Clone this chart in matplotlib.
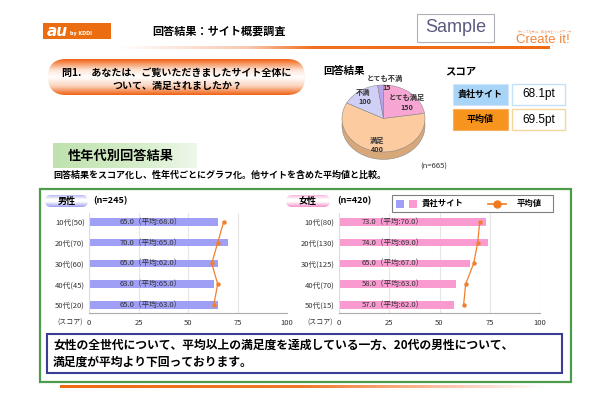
import numpy as np
import matplotlib
matplotlib.use('Agg')
import matplotlib.pyplot as plt
from matplotlib.patches import FancyBboxPatch, Rectangle
from matplotlib.colors import LinearSegmentedColormap

plt.rcParams['font.family'] = ['Noto Sans CJK JP', 'DejaVu Sans']

# ---------------- data ----------------
male_groups = ['10代(50)', '20代(70)', '30代(60)', '40代(45)', '50代(20)']
male_scores = [65.0, 70.0, 65.0, 63.0, 65.0]
male_avg = [68.0, 65.0, 62.0, 65.0, 63.0]
female_groups = ['10代(80)', '20代(130)', '30代(125)', '40代(70)', '50代(15)']
female_scores = [73.0, 74.0, 65.0, 58.0, 57.0]
female_avg = [70.0, 69.0, 67.0, 63.0, 62.0]
score_ticks = [0, 25, 50, 75, 100]
pie_labels = ['とても満足', '満足', '不満', 'とても不満']
pie_counts = [150, 400, 100, 15]
site_score = 68.1
avg_score = 69.5
n_male, n_female, n_total = 245, 420, 665

W, H = 610, 400
fig = plt.figure(figsize=(6.1, 4.0), dpi=100)
bg = fig.add_axes([0, 0, 1, 1])
bg.axis('off')


def px_axes(x0, y0, x1, y1):
    return fig.add_axes([x0 / W, 1 - y1 / H, (x1 - x0) / W, (y1 - y0) / H])


def grad(ax, x0, y0, x1, y1, colors, positions, horizontal=False, clip=None, z=1):
    cmap = LinearSegmentedColormap.from_list('g', list(zip(positions, colors)))
    arr = np.linspace(0, 1, 256)
    arr = arr[None, :] if horizontal else arr[:, None]
    im = ax.imshow(arr, cmap=cmap, extent=(x0, x1, y1, y0), aspect='auto',
                   origin='upper', zorder=z, interpolation='bilinear')
    if clip is not None:
        ax.add_patch(clip)
        im.set_clip_path(clip)
    return im


# ---------------- header ----------------
bg.add_patch(Rectangle((43, 23), 68, 16, fc='#eb6d0f', ec='none', zorder=2))
bg.text(47, 31, 'au', color='white', fontsize=11, weight='bold', style='italic',
        family='DejaVu Sans', va='center', ha='left', zorder=3)
bg.text(70, 33, 'by KDDI', color='white', fontsize=3.5, weight='bold',
        family='DejaVu Sans', va='center', ha='left', zorder=3)
bg.text(152, 31.5, '回答結果：サイト概要調査', fontsize=8, weight='bold', va='center', ha='left')

bg.add_patch(Rectangle((417, 14), 77, 28, fc='white', ec='#b0b0b8', lw=0.8, zorder=2))
bg.text(455.5, 28, 'Sample', fontsize=13, color='#5a5a80', family='Liberation Sans',
        ha='center', va='center', zorder=3)
bg.text(545, 31, 'チャンスを形に、創る力をバックアップ', fontsize=2.2, color='#f0a070',
        ha='center', va='center')
bg.text(516, 40, 'Create it!', fontsize=9.5, color='#f0863a', family='Liberation Sans',
        ha='left', va='center')

grad(bg, 118, 46.5, 550, 49.5, ['#ffffff', '#f8c8b0', '#f07020', '#f06a10'],
     [0, 0.3, 0.45, 1], horizontal=True)

# question pill
pill = FancyBboxPatch((48, 59), 257, 36, boxstyle='round,pad=0,rounding_size=18',
                      fc='none', ec='none')
grad(bg, 48, 59, 305, 95, ['#f06010', '#fde3d3', '#ffffff', '#fbd3bd', '#f06010'],
     [0, 0.3, 0.5, 0.75, 1], clip=pill)
bg.text(177, 72.5, '問1.　あなたは、ご覧いただきましたサイト全体に', fontsize=7.2,
        weight='bold', ha='center', va='center', zorder=3)
bg.text(177, 85.5, 'ついて、満足されましたか？', fontsize=7.2,
        weight='bold', ha='center', va='center', zorder=3)

# pie titles & score boxes
bg.text(323, 71, '回答結果', fontsize=7.5, weight='bold', ha='left', va='center')
bg.text(445, 71, 'スコア', fontsize=7.5, weight='bold', ha='left', va='center')
bg.text(420, 167, f'(n={n_total})', fontsize=5.5, ha='left', va='center', color='#333')

bg.add_patch(Rectangle((453, 84), 55, 21, fc='#a8d4f7', ec='#cfe6fa', lw=0.8, zorder=2))
bg.text(480.5, 94.5, '貴社サイト', fontsize=6.5, weight='bold', ha='center', va='center', zorder=3)
bg.add_patch(Rectangle((512, 84), 53, 21, fc='white', ec='#c6e0f5', lw=1, zorder=2))
bg.text(538.5, 94.5, f'{site_score:.1f}pt', fontsize=8.5, family='Liberation Sans',
        ha='center', va='center', zorder=3)
bg.add_patch(Rectangle((453, 109), 55, 21, fc='#f7941d', ec='#f7b060', lw=0.8, zorder=2))
bg.text(480.5, 119.5, '平均値', fontsize=6.5, weight='bold', ha='center', va='center', zorder=3)
bg.add_patch(Rectangle((512, 109), 53, 21, fc='white', ec='#f5d59a', lw=1, zorder=2))
bg.text(538.5, 119.5, f'{avg_score:.1f}pt', fontsize=8.5, family='Liberation Sans',
        ha='center', va='center', zorder=3)

# section title
grad(bg, 53, 143, 197, 168, ['#bfe2ae', '#d6edca', '#eef8ea'], [0, 0.6, 1], horizontal=True)
bg.text(68, 156, '性年代別回答結果', fontsize=9.5, weight='bold', ha='left', va='center', zorder=3)
bg.text(53, 175.5, '回答結果をスコア化し、性年代ごとにグラフ化。他サイトを含めた平均値と比較。',
        fontsize=6.5, weight='bold', ha='left', va='center')

# green frame
bg.add_patch(Rectangle((40, 189), 531, 193, fc='white', ec='#4c9c4c', lw=1.6, zorder=2))

# gender pills
mp = FancyBboxPatch((45, 195), 43, 12, boxstyle='round,pad=0,rounding_size=6', fc='none', ec='none')
grad(bg, 45, 195, 88, 207, ['#b8b8f4', '#ffffff', '#ffffff', '#9c9cf0'], [0, 0.35, 0.55, 1],
     clip=mp, z=3)
bg.text(66.5, 201, '男性', fontsize=6.5, weight='bold', ha='center', va='center', zorder=4)
bg.text(93, 200.5, f'(n={n_male})', fontsize=6.5, weight='bold', ha='left', va='center', zorder=4)

fp = FancyBboxPatch((286, 195), 44, 12, boxstyle='round,pad=0,rounding_size=6', fc='none', ec='none')
grad(bg, 286, 195, 330, 207, ['#f8b8dc', '#ffffff', '#ffffff', '#f590c8'], [0, 0.35, 0.55, 1],
     clip=fp, z=3)
bg.text(308, 201, '女性', fontsize=6.5, weight='bold', ha='center', va='center', zorder=4)
bg.text(337, 200.5, f'(n={n_female})', fontsize=6.5, weight='bold', ha='left', va='center', zorder=4)

bg.text(57, 323, '(スコア)', fontsize=5, ha='left', va='center', color='#333', zorder=4)
bg.text(307, 323, '(スコア)', fontsize=5, ha='left', va='center', color='#333', zorder=4)

# conclusion box
bg.add_patch(Rectangle((47, 334), 515, 39, fc='white', ec='#3c3c96', lw=1.5, zorder=3))
bg.text(53, 345.5, '女性の全世代について、平均以上の満足度を達成している一方、20代の男性について、',
        fontsize=8.5, weight='bold', ha='left', va='center', zorder=4)
bg.text(53, 362, '満足度が平均より下回っております。',
        fontsize=8.5, weight='bold', ha='left', va='center', zorder=4)

# bottom line
grad(bg, 60, 386, 545, 388.5, ['#f06a10', '#f07828', '#fbd0c0', '#ffffff'],
     [0, 0.5, 0.85, 1], horizontal=True)

bg.set_xlim(0, W)
bg.set_ylim(H, 0)

# ---------------- pie ----------------
pax = px_axes(342, 85, 425, 152)
top_cols = ['#f7a6d3', '#fccb9f', '#d0d0f6', '#b9a2ee']
dark_cols = ['#d684b4', '#d9a878', '#a9a9d6', '#9484cc']
pax.pie(pie_counts, colors=dark_cols, startangle=90, counterclock=False, center=(0, -0.22),
        radius=1, wedgeprops=dict(edgecolor='#8a8a8a', linewidth=0.4))
pax.pie(pie_counts, colors=top_cols, startangle=90, counterclock=False, center=(0, 0),
        radius=1, wedgeprops=dict(edgecolor='#8a8a8a', linewidth=0.4))
pax.set_aspect('auto')
pax.set_xlim(-1, 1)
pax.set_ylim(-1, 1)
pax.axis('off')


# ---------------- bar charts ----------------
def bar_chart(rect, cats, scores, avgs, color, label_x):
    ax = px_axes(*rect)
    y = np.arange(len(cats))
    ax.barh(y, scores, height=0.36, color=color, zorder=2)
    ax.plot(avgs, y, color='#f08030', lw=0.9, marker='o', ms=2.2, zorder=3)
    for yi, s, a in zip(y, scores, avgs):
        ax.text(label_x, yi, f'{s:.1f}（平均:{a:.1f}）', fontsize=5.5, va='center',
                ha='left', color='#333', zorder=4)
    ax.set_xlim(0, 100)
    ax.set_ylim(len(cats) - 1 + 0.39, -0.43)
    ax.set_xticks(score_ticks)
    ax.set_xticklabels([str(t) for t in score_ticks], fontsize=5.5, color='#333')
    ax.set_yticks(y)
    ax.set_yticklabels(cats, fontsize=5.5, color='#333')
    ax.tick_params(axis='x', length=0, pad=4)
    ax.tick_params(axis='y', length=0, pad=3)
    ax.grid(axis='x', color='#e6e6e6', lw=0.8)
    ax.set_axisbelow(True)
    ax.spines['top'].set_visible(False)
    ax.spines['right'].set_visible(False)
    ax.spines['left'].set_color('#dddddd')
    ax.spines['bottom'].set_color('#aaaaaa')
    ax.patch.set_alpha(0)
    return ax


bar_chart((89, 213, 287, 313), male_groups, male_scores, male_avg, '#9f9ff5', 15.5)
bar_chart((339, 213, 540, 313), female_groups, female_scores, female_avg, '#f99bd1', 11.5)

# ---------------- overlay (pie labels, legend) ----------------
top = fig.add_axes([0, 0, 1, 1])
top.axis('off')
top.patch.set_alpha(0)
lbl = dict(fontsize=5.2, weight='bold', ha='center', va='center', color='#333')
top.text(385, 78, pie_labels[3], **lbl)
top.text(387, 88, str(pie_counts[3]), **lbl)
top.text(407, 97, pie_labels[0], **lbl)
top.text(407, 107, str(pie_counts[0]), **lbl)
top.text(363, 92, pie_labels[2], **lbl)
top.text(365, 102, str(pie_counts[2]), **lbl)
top.text(377, 140, pie_labels[1], **lbl)
top.text(377, 150, str(pie_counts[1]), **lbl)

top.add_patch(Rectangle((392, 195), 161, 17, fc='white', ec='#808080', lw=0.8))
top.add_patch(Rectangle((395.5, 199.5), 8, 8, fc='#9f9ff5', ec='none'))
top.add_patch(Rectangle((409, 199.5), 8, 8, fc='#f99bd1', ec='none'))
top.text(422, 203.5, '貴社サイト', fontsize=6, weight='bold', ha='left', va='center')
top.plot([488, 506], [203.5, 203.5], color='#f07a20', lw=1.2)
top.plot([497], [203.5], marker='o', ms=5, color='#f07a20')
top.text(517, 203.5, '平均値', fontsize=6, weight='bold', ha='left', va='center')
top.set_xlim(0, W)
top.set_ylim(H, 0)

fig.savefig('out.png', dpi=100)
